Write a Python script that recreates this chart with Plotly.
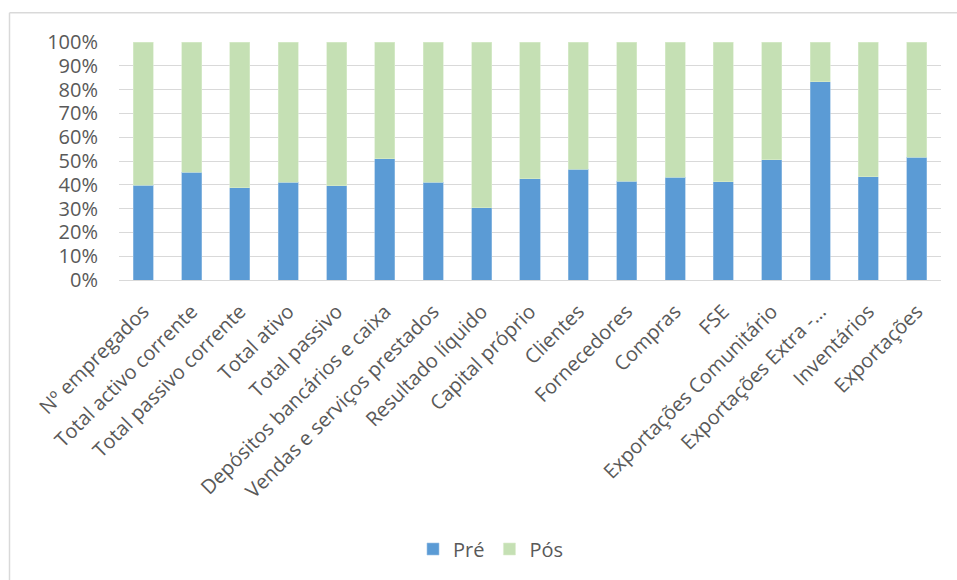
import plotly.graph_objects as go

categories = [
    "Nº empregados", "Total activo corrente", "Total passivo corrente",
    "Total ativo", "Total passivo", "Depósitos bancários e caixa",
    "Vendas e serviços prestados", "Resultado líquido", "Capital próprio",
    "Clientes", "Fornecedores", "Compras", "FSE",
    "Exportações Comunitário", "Exportações Extra -…", "Inventários",
    "Exportações",
]
pre = [39.8, 45.2, 38.8, 41.1, 39.7, 50.9, 41.1, 30.3, 42.6,
       46.6, 41.5, 43.1, 41.2, 50.6, 83.2, 43.3, 51.6]
pos = [round(100 - v, 1) for v in pre]

W, H = 957, 580
ml, mr, mt, mb = 119, 16, 42, 300
pw, ph = W - ml - mr, H - mt - mb

def px_x(x):
    return (x - ml) / pw

def px_y(y):
    return (H - mb - y) / ph

font = "Open Sans, Segoe UI, Liberation Sans, sans-serif"
txt = "#595959"
fs = 20

fig = go.Figure()
fig.add_trace(go.Bar(x=categories, y=pre, name="Pré",
                     marker=dict(color="#5b9bd5", line=dict(color="#9dc3e6", width=0.6))))
fig.add_trace(go.Bar(x=categories, y=pos, name="Pós",
                     marker=dict(color="#c5e0b4", line=dict(color="#dbeccf", width=0.6))))

fig.update_layout(
    width=W, height=H,
    barmode="stack", bargap=0.586,
    margin=dict(l=ml, r=mr, t=mt, b=mb),
    paper_bgcolor="white", plot_bgcolor="white",
    font=dict(family=font, color=txt, size=fs),
    showlegend=True,
    legend=dict(orientation="h", x=px_x(413), xanchor="left",
                y=px_y(549), yanchor="middle",
                font=dict(size=fs, color=txt), itemwidth=30,
                traceorder="normal"),
    xaxis=dict(tickangle=-45, showgrid=False, showline=False,
               ticks="", tickfont=dict(size=fs, color=txt),
               ticklabelstandoff=15),
    yaxis=dict(range=[0, 100], dtick=10, ticksuffix="%",
               showgrid=True, gridcolor="#d9d9d9", gridwidth=1.3,
               zeroline=True, zerolinecolor="#d9d9d9", zerolinewidth=1.3,
               tickfont=dict(size=fs, color=txt), ticks="",
               ticklabelstandoff=20),
)

# chart area frame (left and top edges visible)
frame = dict(type="line", xref="paper", yref="paper",
             line=dict(color="#d9d9d9", width=1.5), layer="below")
fig.add_shape(**frame, x0=px_x(9.5), x1=px_x(9.5), y0=px_y(600), y1=px_y(12.7))
fig.add_shape(**frame, x0=px_x(9.5), x1=px_x(980), y0=px_y(12.7), y1=px_y(12.7))

fig.write_html("out.html")
